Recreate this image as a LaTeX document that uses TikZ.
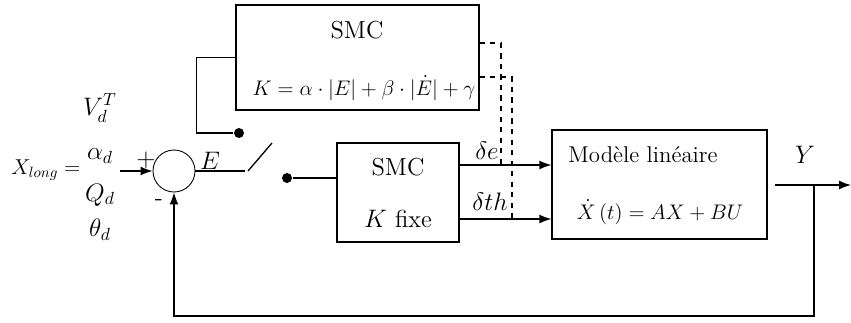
\documentclass[tikz,border=0pt]{standalone}
\usepackage{amsmath}
\usepackage{graphicx}
\usetikzlibrary{arrows.meta,positioning,calc}

\begin{document}
\begin{tikzpicture}[x=0.02cm, y=-0.02cm, line width=0.75pt, >={Latex[length=2.4mm,width=1.8mm]},
    every node/.style={font=\fontsize{14}{16}\selectfont},
    biglabel/.style={font=\fontsize{14.4}{17}\selectfont}]
        \useasboundingbox (0,0) rectangle (851,322);

        % Reference inputs
        \node[biglabel] (xlong) at (46,170) {\scalebox{0.85}{$X_{long} =$}};
        \node[biglabel] (vdt) at (100,108) {$V_d^T$};
        \node[biglabel] (alphad) at (100,156) {$\alpha_d$};
        \node[biglabel] (qd) at (100,195) {$Q_d$};
        \node[biglabel] (thetad) at (100,230) {$\theta_d$};
        \coordinate (xin) at (120,171);

        % Summing junction
        \node[draw, circle, minimum size=0.84cm, inner sep=0pt, line width=0.5pt] (sum) at (174,171) {};
        \node (plus) at (146,160) {$+$};
        \node (minus) at (159,203) {-};
        \node (err) at (210,161) {$E$};

        % Switch
        \coordinate (swa) at (245,171);
        \coordinate (swb) at (248,171);
        \coordinate (swc) at (272,143);
        \node[circle, fill, inner sep=0pt, minimum size=0.2cm] (dotvar) at (239,133) {};
        \node[circle, fill, inner sep=0pt, minimum size=0.2cm] (dotfix) at (287,178) {};

        % SMC with variable gain
        \node[draw, minimum width=4.86cm, minimum height=2.1cm] (smcvar) at (357.5,57.5) {};
        \node (smcvartitle) at (357,30) {SMC};
        \node[font=\fontsize{12}{14}\selectfont] (smcvarlaw) at (364,88)
            {$K = \alpha\cdot\lvert E\rvert + \beta\cdot\lvert \dot{E}\rvert + \gamma$};

        % SMC with fixed gain
        \node[draw, minimum width=2.44cm, minimum height=1.98cm] (smcfix) at (398,192.5) {};
        \node (smcfixtitle) at (398,167) {SMC};
        \node (smcfixgain) at (398,219) {$K$ fixe};

        % Linear model
        \node[draw, minimum width=4.3cm, minimum height=2.18cm] (model) at (659.5,184.5) {};
        \node[font=\fontsize{13}{15}\selectfont] (modeltitle) at (643,155) {Modèle linéaire};
        \node[font=\fontsize{12}{15}\selectfont] (modeleq) at (660,212) {$\dot{X}\left(t\right) = AX + BU$};

        % Commands
        \coordinate (ge) at (501,165);
        \coordinate (gth) at (512,219);
        \node[biglabel] (dele) at (487,151) {$\delta e$};
        \node[biglabel] (delth) at (490,202) {$\delta th$};

        % Output
        \coordinate (yout) at (775,185);
        \coordinate (ytap) at (814,185);
        \coordinate (yend) at (851,185);
        \node (yl) at (805,155) {$Y$};

        \draw[->] (xin) -- (sum);
        \draw (sum) -- (swa);
        \draw (swb) -- (swc);
        \draw (smcvar.west) -- ++(-39,0) |- (dotvar);
        \draw (dotfix) -- (smcfix.west |- dotfix);
        \draw[dashed] ([yshift=0.29cm]smcvar.east) -| (ge);
        \draw[dashed] ([yshift=-0.39cm]smcvar.east) -| (gth);
        \draw[->] (smcfix.east |- ge) -- (model.west |- ge);
        \draw[->] (smcfix.east |- gth) -- (model.west |- gth);
        \draw[->] (yout) -- (yend);
        \draw[->] (ytap) -- ++(0,131) -| (sum.south);
    \end{tikzpicture}
\end{document}
